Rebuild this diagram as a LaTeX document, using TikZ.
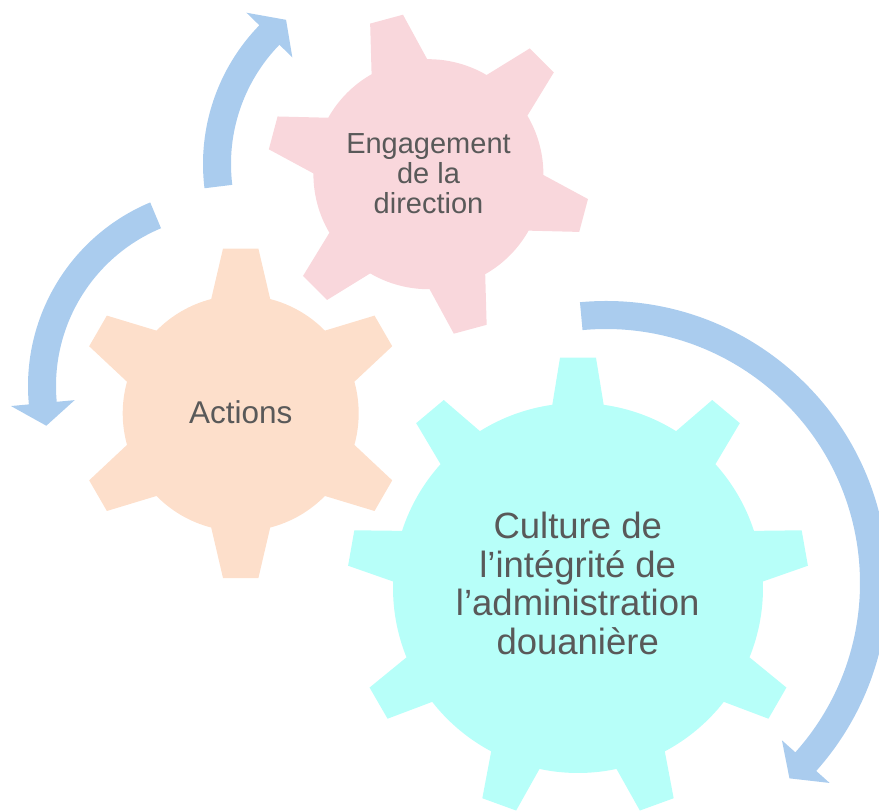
\documentclass[tikz,border=0pt]{standalone}
\usepackage{fontspec}
\setmainfont{Liberation Sans}
\usepackage{xcolor}
\usepackage{tikz}
\usetikzlibrary{positioning}

\definecolor{gearpink}{HTML}{F9D7DC}
\definecolor{gearpeach}{HTML}{FDDFCB}
\definecolor{gearcyan}{HTML}{B7FFF9}
\definecolor{arrowblue}{HTML}{AACCEE}
\definecolor{textgray}{HTML}{595959}

% #1 teeth, #2 body radius, #3 tip radius, #4 tip half width, #5 root half width, #6 angle of first tooth
\newcommand{\gearpath}[6]{%
  ({#6-asin(#5/#2)}:#2)
  \foreach \k in {1,...,#1}{
    -- ({#6+(\k-1)*360/#1-asin(#4/#3)}:#3)
    -- ({#6+(\k-1)*360/#1+asin(#4/#3)}:#3)
    -- ({#6+(\k-1)*360/#1+asin(#5/#2)}:#2)
    arc[start angle={#6+(\k-1)*360/#1+asin(#5/#2)}, end angle={#6+\k*360/#1-asin(#5/#2)}, radius=#2]
  } -- cycle}

% #1 radius of the middle line, #2 tail angle, #3 angle of the head base, #4 tip angle
\newcommand{\arcarrowpath}[4]{%
  ({#2}:{#1+14}) arc[start angle={#2}, end angle={#3}, radius={#1+14}]
  -- ({#3}:{#1+32}) -- ({#4}:{#1}) -- ({#3}:{#1-32}) -- ({#3}:{#1-14})
  arc[start angle={#3}, end angle={#2}, radius={#1-14}] -- cycle}

\begin{document}
\begin{tikzpicture}[
    x=0.5pt, y=0.5pt,
    pinkgear/.style={fill=gearpink},
    peachgear/.style={fill=gearpeach},
    cyangear/.style={fill=gearcyan},
    arrowband/.style={fill=arrowblue},
    gearlabel/.style={align=center, text=textgray, inner sep=0pt}
]
\useasboundingbox (0,0) rectangle (879,810);
\clip (0,0) rectangle (879,810);

% Gear centres
\coordinate (engc) at (428.4,635.8);
\coordinate (actc) at (240.7,396.7);
\coordinate (cultc) at (578,222);

% Gears
\fill[pinkgear, shift={(engc)}] \gearpath{6}{115}{161.5}{17}{28.8}{105.1};
\fill[peachgear, shift={(actc)}] \gearpath{6}{118}{165.7}{17.7}{29.5}{90};
\fill[cyangear, shift={(cultc)}] \gearpath{9}{185}{231}{18}{25.7}{90};

% Circular arrows
\fill[arrowband, shift={(402,646)}] \arcarrowpath{185}{187}{135.8}{128.8};
\fill[arrowband, shift={(227,424)}] \arcarrowpath{185}{112.7}{185.3}{192.4};
\fill[arrowband, shift={(606,227)}] \arcarrowpath{268}{95.3}{-41.8}{-46.8};

% Labels
\node[gearlabel, font=\fontsize{14.5}{15.2}\selectfont] (engagement) at (428.5,636.3) {Engagement\\de la\\direction};
\node[gearlabel, font=\fontsize{15.75}{18}\selectfont] (actions) at (240.8,397.7) {Actions};
\node[gearlabel, font=\fontsize{18.25}{19.3}\selectfont] (culture) at (577.7,226.7) {Culture de\\l’intégrité de\\l’administration\\douanière};
\end{tikzpicture}
\end{document}
